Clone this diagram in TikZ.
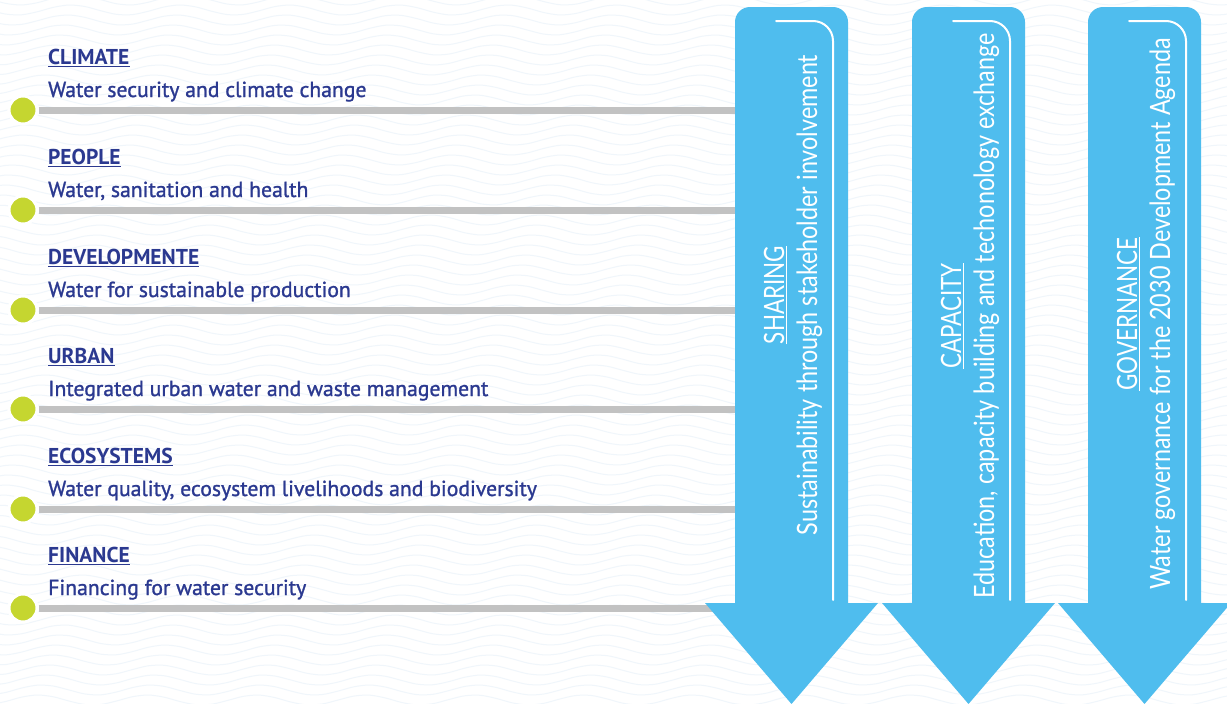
\documentclass[tikz,border=0pt]{standalone}
\usepackage{fontspec}
\setmainfont{PT Sans}
\newfontfamily\arrowfont{Lato}
\newfontfamily\subfont[FakeBold=1.2]{PT Sans}
\usetikzlibrary{calc}
\definecolor{navy}{RGB}{43,57,144}
\definecolor{arrowblue}{RGB}{79,189,238}
\definecolor{barGray}{RGB}{194,194,194}
\definecolor{dotGreen}{RGB}{197,214,48}
\definecolor{waveBlue}{RGB}{240,246,251}
\begin{document}
\begin{tikzpicture}[x=1pt,y=-1pt,
  title/.style={anchor=base west, inner sep=0pt, text=navy, font=\fontsize{21.5}{24}\selectfont\bfseries},
  subtitle/.style={anchor=base west, inner sep=0pt, text=navy, font=\subfont\fontsize{21.7}{24}\selectfont},
  uline/.style={draw=navy, line width=1.3pt},
  bar/.style={draw=barGray, line width=7pt},
  dot/.style={circle, fill=dotGreen, draw=white, line width=3pt, minimum size=28pt, inner sep=0pt},
  guide/.style={draw=white, line width=2pt, line cap=round, rounded corners=20pt},
  atitle/.style={rotate=90, anchor=base, inner sep=0pt, text=white, font=\arrowfont\fontsize{28}{30}\selectfont},
  aline/.style={draw=white, line width=1pt}
]
\useasboundingbox (0,0) rectangle (1227,704);
\fill[white] (0,0) rectangle (1227,704);
% faint wave background
\begin{scope}
\clip (0,0) rectangle (1227,704);
\foreach \k in {0,...,75}{
  \draw[waveBlue, line width=1pt] plot[smooth, domain=-10:1240, samples=80] (\x, {\k*10 - 20 + 5*sin(\x*3.3 + \k*12)});
}
\end{scope}

% left items: bars and dots
\foreach \i/\y in {1/110, 2/210, 3/310, 4/409, 5/509, 6/608}{
  \coordinate (e\i) at (750,\y);
  \node[dot] (d\i) at (23,\y) {};
  \draw[bar] (d\i) -- (e\i);
  \node[dot] at (23,\y) {};
}

% titles and subtitles
\foreach \i/\y/\t/\s in {
  1/110/CLIMATE/Water security and climate change,
  2/210/PEOPLE/{Water, sanitation and health},
  3/310/DEVELOPMENTE/Water for sustainable production,
  4/409/URBAN/Integrated urban water and waste management,
  5/509/ECOSYSTEMS/{Water quality, ecosystem livelihoods and biodiversity},
  6/608/FINANCE/Financing for water security}{
  \node[title] (t\i) at (48,\y-46) {\t};
  \draw[uline] ([yshift=-2.5pt]t\i.base west) -- ([yshift=-2.5pt]t\i.base east);
  \node[subtitle] (s\i) at (48,\y-13) {\s};
}

% arrows
\foreach \L in {735, 912, 1088}{
  \fill[arrowblue, rounded corners=15pt] (\L,7) rectangle (\L+113,625);
  \fill[arrowblue] (\L-30,603) -- (\L+143,603) -- (\L+56.5,704) -- cycle;
  \draw[guide] (\L+41,21) -- (\L+98,21) -- (\L+98,600);
}

% arrow texts
\foreach \i/\L/\c/\t/\s in {
  1/735/295/SHARING/Sustainability through stakeholder involvement,
  2/912/316/CAPACITY/{Education, capacity building and techonology exchange},
  3/1088/314/GOVERNANCE/Water governance for the 2030 Development Agenda}{
  \node[atitle] (h\i) at (\L+49,\c) {\scalebox{0.8}[1]{\t}};
  \draw[aline] ([xshift=2pt]h\i.base west) -- ([xshift=2pt]h\i.base east);
  \node[atitle] (m\i) at (\L+82,\c) {\scalebox{0.835}[1]{\s}};
}
\end{tikzpicture}
\end{document}
